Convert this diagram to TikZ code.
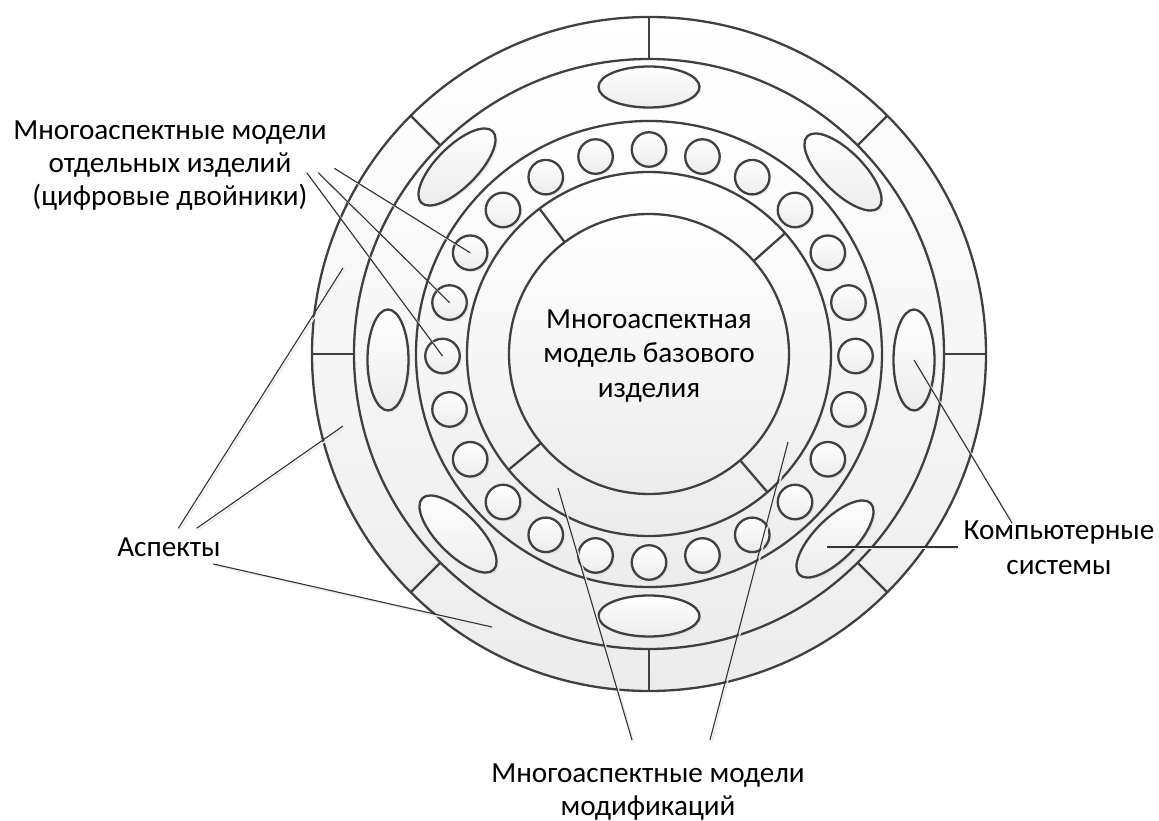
\documentclass[tikz,border=0pt]{standalone}
\usepackage{fontspec}
\setmainfont{Carlito}
\usetikzlibrary{shapes.geometric,shadows}
\definecolor{edge}{HTML}{404040}
\definecolor{lead}{HTML}{333333}
\definecolor{fillbot}{HTML}{ECECEC}
\begin{document}
\begin{tikzpicture}[x=1pt,y=1pt,
  ring/.style={draw=edge, line width=2.3pt, top color=white, bottom color=fillbot},
  part/.style={draw=edge, line width=2.3pt, top color=white, bottom color=fillbot,
    inner sep=0pt, drop shadow={opacity=0.12, shadow xshift=2pt, shadow yshift=-2pt}},
  twin/.style={part, circle, minimum size=34.5pt},
  system/.style={part, ellipse, minimum width=101pt, minimum height=41pt},
  divider/.style={draw=edge, line width=2.3pt},
  leader/.style={draw=lead, line width=1.1pt},
  leadshade/.style={draw=gray!16, line width=1.4pt},
  label/.style={font=\fontsize{29.2}{33}\selectfont, align=center, text=black, inner sep=0pt},
]
\useasboundingbox[fill=white] (-649,-467) rectangle (510,354);

% concentric discs, outermost first
\path[ring] (0,0) circle[radius=337];
\path[ring] (0,0) circle[radius=295];
\path[ring] (0,0) circle[radius=233];
\path[ring] (0,0) circle[radius=182];
\path[ring] (0,0) circle[radius=140];

% aspect sectors of the outer ring
\foreach \a in {0,45,...,315}
  \draw[divider] (\a:295) -- (\a:337);
% modification sectors around the base model
\foreach \a in {41.6,127,219.5,310.6}
  \draw[divider] (\a:140) -- (\a:182);

% computer systems
\node[system] (sN) at (0,267) {};
\node[system, rotate=-45] (sNE) at (194,182) {};
\node[system, rotate=90] (sE) at (265,-6) {};
\node[system, rotate=45] (sSE) at (186,-185) {};
\node[system] (sS) at (0,-262) {};
\node[system, rotate=-45] (sSW) at (-191,-180) {};
\node[system, rotate=90] (sW) at (-261,-6) {};
\node[system, rotate=45] (sNW) at (-192,187) {};

% digital twins of individual products
\foreach \i in {0,...,23}
  \node[twin] (t\i) at ({206.5*cos(90+15*\i)},{-2+206.5*sin(90+15*\i)}) {};

% labels
\node[label, font=\fontsize{29.2}{34.5}\selectfont] (base) at (0,-2) {Многоаспектная\\модель базового\\изделия};
\node[label] (twins) at (-479,188) {Многоаспектные модели\\отдельных изделий\\(цифровые двойники)};
\node[label, anchor=base] (aspects) at (-480,-202.7) {Аспекты};
\node[label, font=\fontsize{29.2}{35}\selectfont] (systems) at (410,-194) {Компьютерные\\системы};
\node[label] (mods) at (-1,-438) {Многоаспектные модели\\модификаций};

% leader line ends
\coordinate (tw1) at (-314.7,185.7);
\coordinate (tw2) at (-330.7,181.3);
\coordinate (tw3) at (-342.3,181.3);
\coordinate (as1) at (-470.7,-174.3);
\coordinate (as2) at (-452.3,-174.3);
\coordinate (as3) at (-435.7,-210);
\coordinate (ae1) at (-306,86);
\coordinate (ae2) at (-306,-72);
\coordinate (ae3) at (-157,-273);
\coordinate (cs1) at (363,-169);
\coordinate (cs2) at (309,-193);
\coordinate (ce2) at (178,-193);
\coordinate (ms1) at (-17,-386);
\coordinate (ms2) at (61,-386);
\coordinate (me1) at (-91,-134);
\coordinate (me2) at (139,-88);

\foreach \p/\q in {tw1/t4.center, tw2/t5.center, tw3/t6.center,
                   as1/ae1, as2/ae2, as3/ae3,
                   cs1/sE.center, cs2/ce2,
                   ms1/me1, ms2/me2} {
  \draw[leadshade] ([shift={(1.8,-1.8)}]\p) -- ([shift={(1.8,-1.8)}]\q);
  \draw[leader] (\p) -- (\q);
}
\end{tikzpicture}
\end{document}
